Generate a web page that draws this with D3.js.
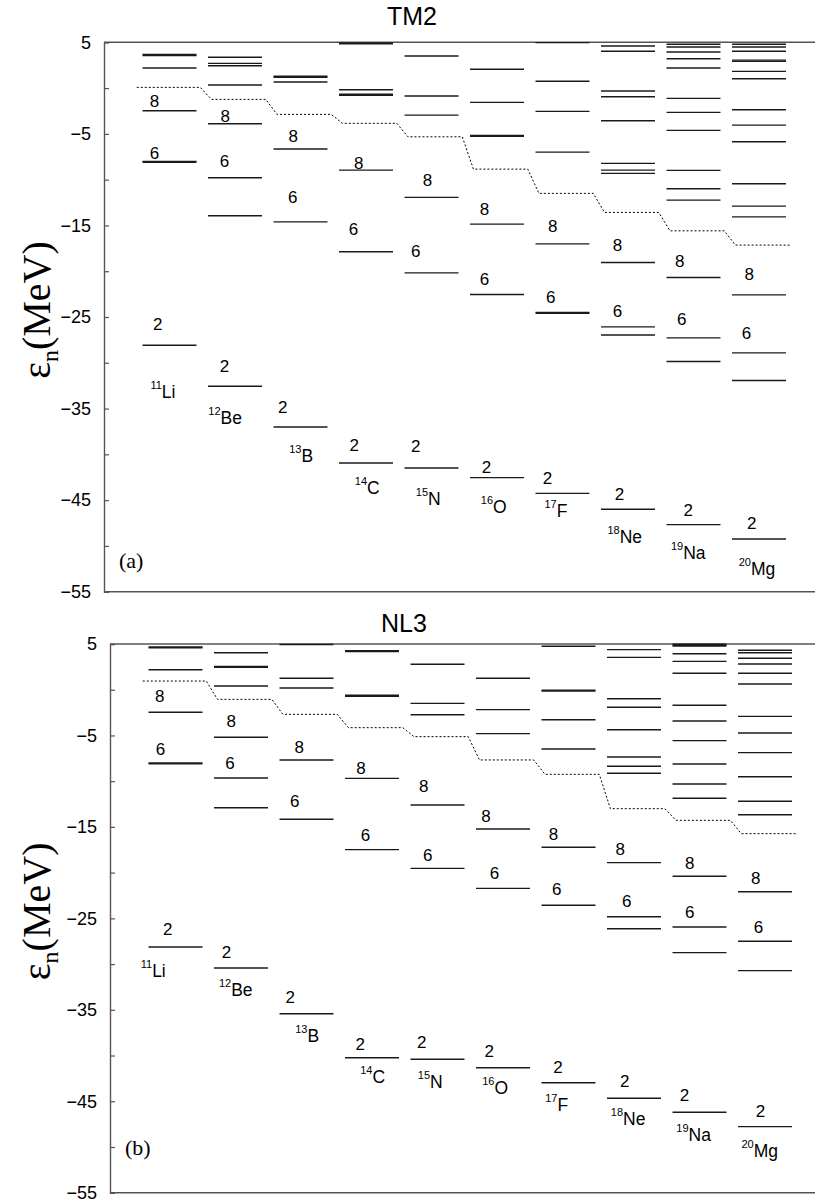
<!DOCTYPE html>
<html>
<head>
<meta charset="utf-8">
<script src="https://cdn.jsdelivr.net/npm/d3@7"></script>
<style>
  body { margin: 0; background: #fff; }
  svg { display: block; }
</style>
</head>
<body>
<script>
// nuclei along the x axis
const elements = ["Li", "Be", "B", "C", "N", "O", "F", "Ne", "Na", "Mg"];
const massNumbers = [11, 12, 13, 14, 15, 16, 17, 18, 19, 20];

// neutron single particle levels (MeV), TM2
const tm2Levels = [
  [3.66, 3.56, 2.19, -2.47, -8.0, -8.1, -28.08],
  [3.36, 2.70, 2.44, 0.33, -3.90, -9.80, -13.95, -32.56],
  [1.30, 1.18, 0.66, -6.66, -14.61, -37.01],
  [4.92, 4.84, -0.18, -0.68, -0.78, -8.96, -17.88, -40.95],
  [3.50, -0.87, -2.95, -11.94, -20.18, -41.49],
  [2.05, -1.56, -5.16, -5.26, -14.86, -22.54, -42.54],
  [4.96, 0.74, -2.54, -6.99, -17.01, -24.5, -24.6, -44.26],
  [4.60, 4.02, -0.32, -0.95, -3.57, -8.22, -8.96, -9.32, -19.04, -26.08, -26.96, -46.0],
  [4.78, 4.49, 3.94, 3.21, 2.19, -1.12, -2.65, -4.62, -8.99, -11.0, -12.24, -20.68, -27.28, -29.86, -47.68],
  [4.78, 4.49, 4.02, 3.05, 2.92, 1.83, 1.02, -2.37, -4.04, -5.86, -10.45, -12.89, -14.06, -22.58, -28.92, -31.94, -49.25]
];
const tm2Fermi = [0.08, -1.23, -2.87, -3.85, -5.32, -8.85, -11.5, -13.58, -15.59, -17.15];

// neutron single particle levels (MeV), NL3
const nl3Levels = [
  [4.69, 4.59, 2.19, -2.47, -8.0, -8.1, -28.13],
  [4.05, 2.54, 2.44, 0.41, -5.2, -9.65, -12.9, -30.43],
  [4.95, 1.25, 0.19, -7.68, -14.17, -35.43],
  [4.28, 4.18, -0.6, -0.72, -9.69, -17.49, -40.24],
  [2.78, -1.49, -2.73, -12.6, -19.53, -40.41],
  [1.25, -2.18, -4.8, -15.23, -21.72, -41.33],
  [4.75, -0.05, -0.15, -3.28, -6.48, -17.23, -23.57, -42.97],
  [4.38, 3.54, -0.98, -1.92, -4.37, -7.36, -8.37, -9.14, -18.91, -24.82, -26.13, -44.68],
  [4.97, 4.87, 4.77, 3.94, 3.1, 1.8, -1.7, -3.42, -5.57, -8.12, -10.31, -11.87, -20.4, -25.95, -28.75, -46.21],
  [4.31, 4.05, 3.44, 2.81, 1.8, 0.63, -2.91, -4.73, -6.88, -9.51, -12.2, -13.67, -22.09, -27.51, -30.72, -47.78]
];
const nl3Fermi = [0.95, -1.05, -2.69, -4.15, -5.13, -7.68, -9.25, -13.01, -14.28, -15.74];

// shell closure labels: [x (nucleus index), energy, text]
const tm2Magic = [
  [0.77, -2.10, "8"], [0.77, -7.79, "6"], [0.82, -26.37, "2"],
  [1.85, -3.68, "8"], [1.84, -8.60, "6"], [1.84, -31.03, "2"],
  [2.89, -5.86, "8"], [2.88, -12.6, "6"], [2.73, -35.48, "2"],
  [3.89, -8.85, "8"], [3.81, -16.06, "6"], [3.82, -39.67, "2"],
  [4.94, -10.7, "8"], [4.76, -18.43, "6"], [4.76, -39.74, "2"],
  [5.81, -13.87, "8"], [5.81, -21.52, "6"], [5.84, -42.0, "2"],
  [6.85, -15.7, "8"], [6.82, -23.46, "6"], [6.77, -43.2, "2"],
  [7.84, -17.78, "8"], [7.84, -24.99, "6"], [7.87, -44.95, "2"],
  [8.79, -19.52, "8"], [8.82, -25.9, "6"], [8.92, -46.7, "2"],
  [9.85, -20.98, "8"], [9.81, -27.35, "6"], [9.89, -48.11, "2"]
];
const nl3Magic = [
  [0.76, -1.31, "8"], [0.77, -7.14, "6"], [0.88, -26.82, "2"],
  [1.85, -4.11, "8"], [1.83, -8.67, "6"], [1.78, -29.37, "2"],
  [2.89, -6.95, "8"], [2.82, -12.86, "6"], [2.75, -34.22, "2"],
  [3.83, -9.22, "8"], [3.9, -16.51, "6"], [3.82, -39.4, "2"],
  [4.79, -11.22, "8"], [4.85, -18.7, "6"], [4.76, -39.21, "2"],
  [5.74, -14.43, "8"], [5.87, -20.7, "6"], [5.79, -40.2, "2"],
  [6.77, -16.43, "8"], [6.82, -22.45, "6"], [6.84, -41.88, "2"],
  [7.79, -18.07, "8"], [7.89, -23.73, "6"], [7.86, -43.48, "2"],
  [8.85, -19.6, "8"], [8.85, -25.0, "6"], [8.77, -44.94, "2"],
  [9.86, -21.24, "8"], [9.9, -26.57, "6"], [9.93, -46.69, "2"]
];

// nucleus name labels: [x, energy]
const tm2Names = [[0.90, -33.9], [1.85, -36.64], [3.01, -40.84], [4.02, -44.37], [4.95, -45.57],
  [5.95, -46.41], [6.90, -46.85], [7.95, -49.65], [8.92, -51.39], [9.97, -53.2]];
const nl3Names = [[0.66, -31.45], [1.92, -33.49], [3.01, -38.49], [4.01, -42.97], [4.89, -43.58],
  [5.88, -44.2], [6.82, -46.03], [7.91, -47.6], [8.91, -49.31], [9.92, -51.06]];

const yTicks = d3.range(5, -56, -5);

const width = 815, height = 1203;

const svg = d3.select("body").append("svg")
  .attr("width", width)
  .attr("height", height)
  .style("font-family", "'Liberation Sans', Arial, sans-serif");

svg.append("rect").attr("width", width).attr("height", height).attr("fill", "#fff");

const panels = [
  { title: "TM2", tag: "(a)", levels: tm2Levels, fermi: tm2Fermi, magic: tm2Magic, names: tm2Names,
    top: 42.3, bottom: 591.7, left: 104, titleX: 412, titleY: 25, tagE: -52.45 },
  { title: "NL3", tag: "(b)", levels: nl3Levels, fermi: nl3Fermi, magic: nl3Magic, names: nl3Names,
    top: 644, bottom: 1192.7, left: 110, titleX: 404, titleY: 632, tagE: -50.88 }
];

const colUnit = 65.5;
const halfW = 0.412;

panels.forEach(p => {
  const x = d3.scaleLinear().domain([0, 11]).range([p.left, p.left + 11 * colUnit]);
  const y = d3.scaleLinear().domain([-55, 5]).range([p.bottom, p.top]);
  const g = svg.append("g");

  // title
  g.append("text")
    .attr("x", p.titleX).attr("y", p.titleY)
    .attr("text-anchor", "middle")
    .style("font-size", "25px")
    .text(p.title);

  // frame lines top / bottom
  [5, -55].forEach(v => {
    g.append("line")
      .attr("x1", p.left).attr("x2", width + 5)
      .attr("y1", y(v)).attr("y2", y(v))
      .attr("stroke", "#555").attr("stroke-width", 1.4);
  });

  // y axis
  const axis = d3.axisLeft(y)
    .tickValues(yTicks)
    .tickSize(-5)
    .tickPadding(13)
    .tickFormat(d => (d % 10 === 0) ? "" : (d < 0 ? "\u2212" + Math.abs(d) : d));
  const ag = g.append("g").attr("transform", `translate(${p.left},0)`).call(axis);
  ag.select(".domain").attr("stroke", "#555").attr("stroke-width", 1.4);
  ag.selectAll(".tick line").attr("stroke", "#555").attr("stroke-width", 1.2);
  ag.selectAll(".tick text")
    .attr("fill", "#000")
    .style("font-size", "18px")
    .style("font-family", "'Liberation Sans', Arial, sans-serif");

  // y label
  const yl = g.append("text")
    .attr("transform", `translate(50,${(p.top + p.bottom) / 2 - 7}) rotate(-90)`)
    .attr("text-anchor", "middle")
    .style("font-family", "'Liberation Serif', 'Times New Roman', serif")
    .style("font-size", "40px");
  yl.append("tspan").text("\u03b5");
  yl.append("tspan").attr("dy", 8).style("font-size", "24px").text("n");
  yl.append("tspan").attr("dy", -8).text("(MeV)");

  // panel tag
  g.append("text")
    .attr("x", p.left + 15).attr("y", y(p.tagE))
    .style("font-family", "'Liberation Serif', 'Times New Roman', serif")
    .style("font-size", "22px")
    .text(p.tag);

  // levels
  const flat = [];
  p.levels.forEach((arr, i) => arr.forEach(e => flat.push({ k: i + 1, e })));
  g.append("g").selectAll("line")
    .data(flat)
    .enter()
    .append("line")
    .attr("x1", d => x(d.k - halfW))
    .attr("x2", d => x(d.k + halfW))
    .attr("y1", d => y(d.e))
    .attr("y2", d => y(d.e))
    .attr("stroke", "#1a1a1a")
    .attr("stroke-width", 1.4);

  // Fermi level (dotted step line)
  const pts = [];
  p.fermi.forEach((e, i) => {
    const k = i + 1;
    pts.push([k - (i === 0 ? 0.5 : 0.36), e]);
    pts.push([k + 0.47, e]);
  });
  g.append("path")
    .datum(pts)
    .attr("fill", "none")
    .attr("stroke", "#000")
    .attr("stroke-width", 1)
    .attr("stroke-dasharray", "2,2")
    .attr("d", d3.line().x(d => x(d[0])).y(d => y(d[1])));

  // shell labels
  g.append("g").selectAll("text")
    .data(p.magic)
    .enter()
    .append("text")
    .attr("x", d => x(d[0]))
    .attr("y", d => y(d[1]))
    .attr("text-anchor", "middle")
    .style("font-size", "17px")
    .text(d => d[2]);

  // nucleus names
  const nm = g.append("g").selectAll("text")
    .data(p.names)
    .enter()
    .append("text")
    .attr("x", d => x(d[0]))
    .attr("y", d => y(d[1]))
    .attr("text-anchor", "middle")
    .style("font-size", "17.5px");
  nm.append("tspan").attr("dy", -9).style("font-size", "11px").text((d, i) => massNumbers[i]);
  nm.append("tspan").attr("dy", 9).text((d, i) => elements[i]);
});
</script>
</body>
</html>
